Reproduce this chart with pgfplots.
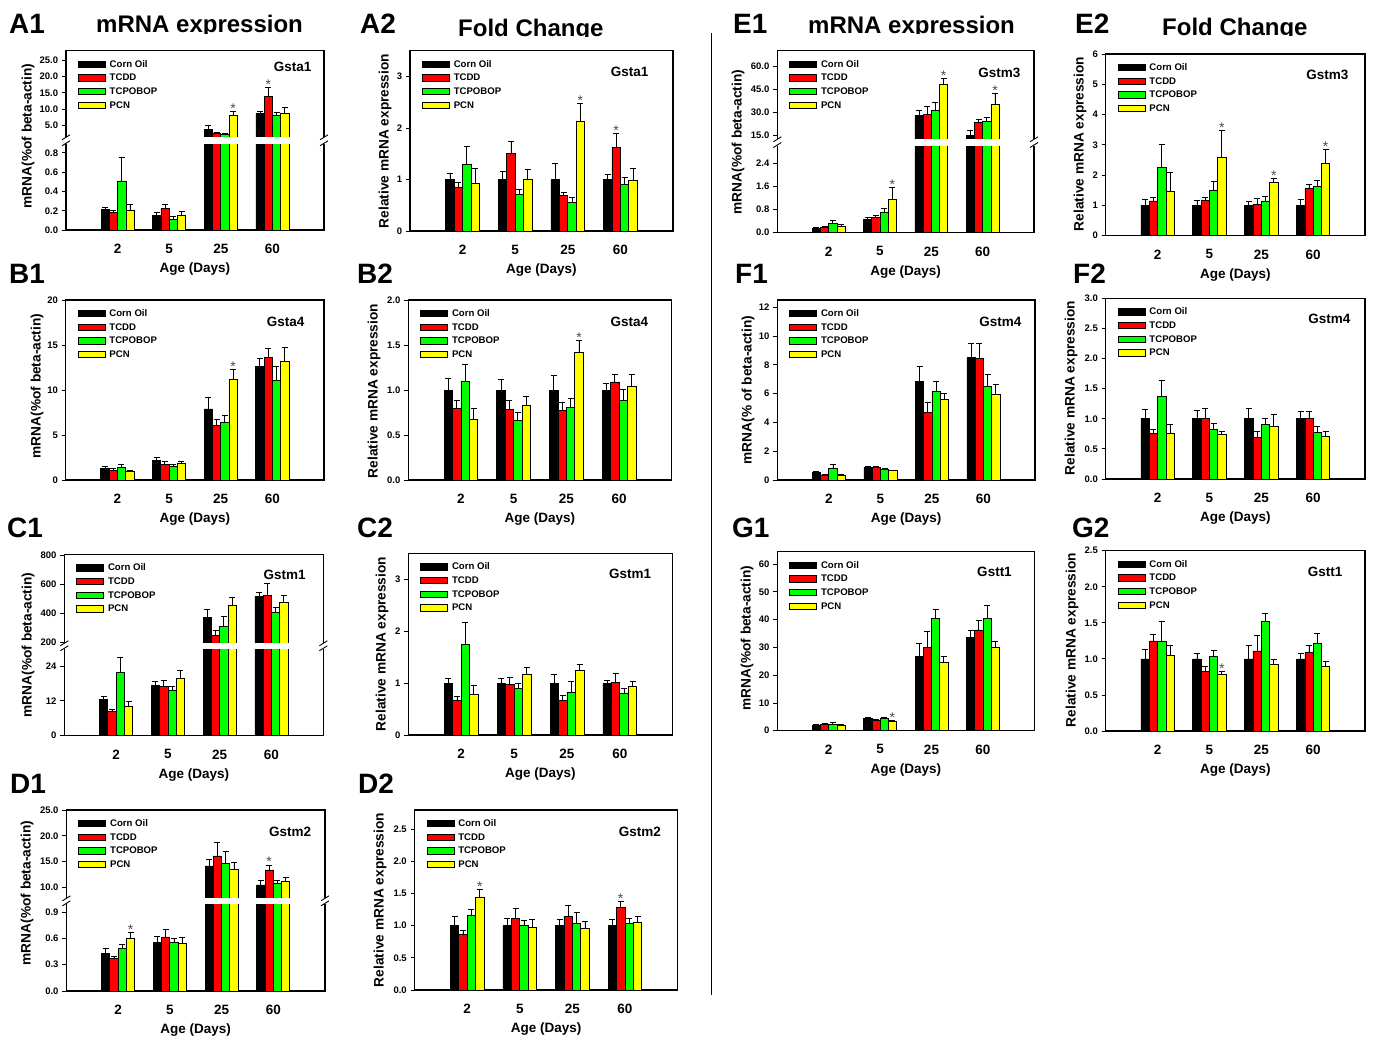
\documentclass[border=0pt]{standalone}
\usepackage{pgfplots}
\pgfplotsset{compat=1.18}
\usepackage{pgfplotstable}
\usepackage{fontspec}
\setmainfont{Liberation Sans}
\definecolor{cred}{RGB}{255,0,0}
\definecolor{cgreen}{RGB}{0,255,0}
\definecolor{cyellow}{RGB}{255,255,0}
\newcommand{\fs}[1]{\bfseries\fontsize{#1}{#1}\selectfont}
\pgfplotsset{
 gb/.style={scale only axis, anchor=north west, xmin=0, xmax=5,
   xtick={1,2,3,4}, xticklabels={2,5,25,60}, ytick pos=left,
   tick align=outside, major tick length=4pt, xtick style={draw=none},
   ytick style={line width=0.9pt, black}, line width=1.1pt,
   x tick label style={font=\fs{13.5}, yshift=-6pt},
   y tick label style={font=\fs{9.5}},
   xlabel style={at={(axis description cs:0.5,0)}, anchor=center, yshift=-39pt, font=\fs{13.5}},
   legend style={at={(0,1)}, anchor=north west, xshift=11.5pt, yshift=-7.5pt,
     draw=none, fill=none, inner sep=0pt, font=\fs{9.6}, row sep=2.4pt,
     cells={anchor=west}, nodes={inner sep=1.5pt},
     /tikz/every odd column/.append style={column sep=2.5pt}},
   legend image code/.code={\draw[#1,/tikz/.cd,draw=black,line width=0.7pt] (0pt,-3pt) rectangle (27pt,3.5pt);},
   /pgf/number format/assume math mode=true},
 bstyle/.style={ybar, bar width=0.16, bar shift=0pt, draw=black, line width=0.7pt,
   error bars/y dir=plus, error bars/y explicit,
   error bars/error bar style={line width=0.9pt, black},
   error bars/error mark options={rotate=90, black, line width=0.9pt, mark size=3pt}},
}
\tikzset{
 bstyle/.style={},
 gene/.style={anchor=east, font=\fs{13.5}, inner sep=0pt},
 star/.style={anchor=base, inner sep=0pt, font=\mdseries\fontsize{14}{14}\selectfont, text=black!70, yshift=-2pt},
}
\newcommand{\fourbars}[1]{%
 \addplot[bstyle, fill=black] table[x expr=\coordindex+0.76, y=a, y error=ea]{#1};
 \addplot[bstyle, fill=cred] table[x expr=\coordindex+0.92, y=b, y error=eb]{#1};
 \addplot[bstyle, fill=cgreen] table[x expr=\coordindex+1.08, y=c, y error=ec]{#1};
 \addplot[bstyle, fill=cyellow] table[x expr=\coordindex+1.24, y=d, y error=ed]{#1};
}
\newcommand{\leg}{\legend{Corn Oil,TCDD,TCPOBOP,PCN}}
\newcommand{\brk}[4]{%
 \fill[white] (#1pt-3pt,-#3pt+0.8pt) rectangle (#2pt+3pt,-#4pt-0.8pt);
 \foreach \xx in {#1,#2}{\foreach \yy in {#3,#4}{\draw[line width=0.9pt] (\xx pt-4pt,-\yy pt-2.5pt) -- (\xx pt+4pt,-\yy pt+2.5pt);}}%
}
\newcommand{\ylab}[3]{\node[rotate=90, font=\fs{13.7}] at (#1pt,-#2pt) {#3};}
\newcommand{\plet}[3]{\node[anchor=base west, inner sep=0pt, font=\fs{28}] at (#1pt,-#2pt) {#3};}
\newcommand{\ttl}[3]{\begin{scope}\clip (#1pt-5pt,-#2pt+30pt) rectangle (#1pt+260pt,-#2pt-0.5pt);
 \node[anchor=base west, inner sep=0pt, font=\fs{24}] at (#1pt,-#2pt) {#3};\end{scope}}
\begin{document}
% ---------- data: columns = Corn Oil, TCDD, TCPOBOP, PCN (value, +SE) ; rows = 2,5,25,60 days
\pgfplotstableread{
a ea b eb c ec d ed
0.21 0.025 0.18 0.02 0.51 0.24 0.20 0.065
0.155 0.03 0.225 0.04 0.11 0.028 0.155 0.035
3.9 1.1 2.69 0.3 2.26 0.35 8.04 1.43
8.77 0.7 13.96 2.55 8.04 1.0 8.77 1.8
}\dAa
\pgfplotstableread{
a ea b eb c ec d ed
1.0 0.11 0.85 0.09 1.30 0.34 0.93 0.29
1.0 0.15 1.50 0.24 0.71 0.09 1.01 0.19
1.0 0.32 0.69 0.06 0.56 0.09 2.13 0.35
1.0 0.10 1.63 0.27 0.91 0.13 0.99 0.23
}\dAb
\pgfplotstableread{
a ea b eb c ec d ed
1.30 0.18 1.11 0.15 1.41 0.33 0.93 0.14
2.22 0.30 1.74 0.30 1.48 0.22 1.85 0.22
7.89 1.30 6.11 0.67 6.37 0.82 11.19 1.11
12.6 0.9 13.6 1.0 11.1 1.57 13.15 1.55
}\dBa
\pgfplotstableread{
a ea b eb c ec d ed
1.0 0.13 0.80 0.08 1.10 0.18 0.67 0.13
1.0 0.12 0.78 0.10 0.66 0.09 0.83 0.10
1.0 0.16 0.77 0.09 0.81 0.10 1.42 0.13
1.0 0.07 1.09 0.08 0.88 0.13 1.04 0.13
}\dBb
\pgfplotstableread{
a ea b eb c ec d ed
12.5 0.9 8.3 0.9 21.7 5.3 10.0 1.7
17.2 1.4 16.9 2.0 15.5 1.6 19.7 2.7
371 57 252 30 314 64 458 50
515 27 524 82 410 32 478 46
}\dCa
\pgfplotstableread{
a ea b eb c ec d ed
1.0 0.08 0.66 0.09 1.75 0.41 0.79 0.16
1.0 0.09 0.98 0.12 0.90 0.10 1.16 0.14
1.0 0.16 0.67 0.09 0.83 0.20 1.24 0.12
1.0 0.05 1.01 0.17 0.80 0.09 0.93 0.10
}\dCb
\pgfplotstableread{
a ea b eb c ec d ed
0.425 0.062 0.368 0.027 0.487 0.049 0.605 0.058
0.556 0.069 0.617 0.083 0.556 0.049 0.54 0.073
14.14 1.29 16.08 2.65 14.65 2.27 13.49 1.36
10.45 0.97 13.36 0.97 10.78 0.51 11.1 0.84
}\dDa
\pgfplotstableread{
a ea b eb c ec d ed
1.0 0.15 0.87 0.06 1.16 0.095 1.44 0.12
1.0 0.115 1.115 0.155 1.01 0.07 0.97 0.13
1.0 0.10 1.15 0.17 1.04 0.16 0.96 0.10
1.0 0.09 1.29 0.08 1.04 0.075 1.06 0.09
}\dDb
\pgfplotstableread{
a ea b eb c ec d ed
0.15 0.02 0.17 0.03 0.32 0.12 0.21 0.09
0.47 0.06 0.53 0.05 0.69 0.14 1.16 0.41
27.7 3.3 28.4 5.7 31.5 4.8 48.4 4.0
15.0 2.9 23.1 2.2 23.8 2.8 35.2 7.3
}\dEa
\pgfplotstableread{
a ea b eb c ec d ed
1.0 0.2 1.15 0.12 2.26 0.74 1.48 0.60
1.0 0.18 1.18 0.09 1.51 0.27 2.59 0.87
1.0 0.12 1.04 0.19 1.15 0.14 1.75 0.14
1.0 0.2 1.56 0.14 1.62 0.19 2.39 0.46
}\dEb
\pgfplotstableread{
a ea b eb c ec d ed
0.51 0.07 0.35 0.04 0.81 0.28 0.35 0.07
0.86 0.11 0.86 0.11 0.74 0.07 0.65 0.04
6.83 1.04 4.70 0.67 6.18 0.65 5.60 0.42
8.50 0.99 8.45 1.04 6.48 0.86 5.95 0.69
}\dFa
\pgfplotstableread{
a ea b eb c ec d ed
1.0 0.16 0.76 0.06 1.37 0.27 0.75 0.15
1.0 0.13 1.0 0.17 0.83 0.09 0.74 0.05
1.0 0.17 0.69 0.10 0.91 0.10 0.87 0.20
1.0 0.12 1.0 0.12 0.77 0.10 0.70 0.09
}\dFb
\pgfplotstableread{
a ea b eb c ec d ed
2.0 0.3 2.4 0.2 2.4 0.5 2.0 0.3
4.45 0.35 3.85 0.35 4.45 0.35 3.5 0.35
26.9 4.6 30.0 5.9 40.5 3.3 24.6 2.1
33.5 2.8 36.3 3.6 40.5 4.8 30.0 2.1
}\dGa
\pgfplotstableread{
a ea b eb c ec d ed
1.0 0.13 1.25 0.09 1.24 0.28 1.05 0.14
1.0 0.08 0.83 0.06 1.04 0.08 0.78 0.04
1.0 0.18 1.11 0.22 1.52 0.11 0.92 0.07
1.0 0.07 1.09 0.10 1.22 0.13 0.89 0.07
}\dGb
\begin{tikzpicture}
\useasboundingbox (0pt,0pt) rectangle (1374pt,-1037pt);
\draw[line width=1.5pt] (711.5pt,-33pt) -- (711.5pt,-995pt);
% panel letters
\plet{9}{33}{A1}\plet{360}{33}{A2}\plet{733}{33}{E1}\plet{1075}{33}{E2}
\plet{9}{283}{B1}\plet{357}{283}{B2}\plet{735}{283}{F1}\plet{1073}{283}{F2}
\plet{7}{537}{C1}\plet{357}{537}{C2}\plet{732}{537}{G1}\plet{1072}{537}{G2}
\plet{10}{793}{D1}\plet{358}{793}{D2}
% titles
\ttl{96}{32.8}{mRNA expression}
\ttl{458}{36.3}{Fold Change}
\ttl{808}{33.3}{mRNA expression}
\ttl{1162}{35}{Fold Change}
% y labels
\ylab{28}{136}{mRNA(\%of beta-actin)}
\ylab{385}{141}{Relative mRNA expression}
\ylab{37}{386}{mRNA(\%of beta-actin)}
\ylab{374}{391}{Relative mRNA expression}
\ylab{28}{645}{mRNA(\%of beta-actin)}
\ylab{382}{644}{Relative mRNA expression}
\ylab{27}{893}{mRNA(\%of beta-actin)}
\ylab{380}{900}{Relative mRNA expression}
\ylab{738}{142}{mRNA(\%of beta-actin)}
\ylab{1080}{144}{Relative mRNA expression}
\ylab{748}{390}{mRNA(\% of beta-actin)}
\ylab{1071}{388}{Relative mRNA expression}
\ylab{747}{638}{mRNA(\%of beta-actin)}
\ylab{1072}{640}{Relative mRNA expression}
% ===== A1 =====
\begin{axis}[gb, at={(66pt,-143.3pt)}, width=258pt, height=86.7pt, ymin=0, ymax=0.9,
  ytick={0,0.2,0.4,0.6,0.8}, yticklabels={0.0,0.2,0.4,0.6,0.8}, xlabel={Age (Days)}]
\fourbars{\dAa}
\end{axis}
\begin{axis}[gb, at={(66pt,-50.7pt)}, width=258pt, height=86.6pt, ymin=1.47, ymax=27.83,
  ytick={5,10,15,20,25}, yticklabels={5.0,10.0,15.0,20.0,25.0}, xtick=\empty]
\fourbars{\dAa}\leg
\node[gene,xshift=-12pt,yshift=-16pt] at (rel axis cs:1,1) {Gsta1};
\node[star] at (axis cs:3.24,9.47) {*};
\node[star] at (axis cs:3.92,16.51) {*};
\end{axis}
\brk{66}{324}{137.3}{143.3}
% ===== A2 =====
\begin{axis}[gb, at={(410pt,-50.7pt)}, width=263pt, height=180.3pt, ymin=0, ymax=3.5,
  ytick={0,1,2,3}, yticklabels={0,1,2,3}, xlabel={Age (Days)}]
\fourbars{\dAb}\leg
\node[gene,xshift=-24pt,yshift=-21pt] at (rel axis cs:1,1) {Gsta1};
\node[star] at (axis cs:3.24,2.48) {*};
\node[star] at (axis cs:3.92,1.90) {*};
\end{axis}
% ===== B1 =====
\begin{axis}[gb, at={(65.7pt,-300pt)}, width=258.3pt, height=180pt, ymin=0, ymax=20,
  ytick={0,5,10,15,20}, yticklabels={0,5,10,15,20}, xlabel={Age (Days)}]
\fourbars{\dBa}\leg
\node[gene,xshift=-19pt,yshift=-22pt] at (rel axis cs:1,1) {Gsta4};
\node[star] at (axis cs:3.24,12.3) {*};
\end{axis}
% ===== B2 =====
\begin{axis}[gb, at={(408.3pt,-300pt)}, width=263.4pt, height=180pt, ymin=0, ymax=2,
  ytick={0,0.5,1,1.5,2}, yticklabels={0.0,0.5,1.0,1.5,2.0}, xlabel={Age (Days)}]
\fourbars{\dBb}\leg
\node[gene,xshift=-23pt,yshift=-22pt] at (rel axis cs:1,1) {Gsta4};
\node[star] at (axis cs:3.24,1.55) {*};
\end{axis}
% ===== C1 =====
\begin{axis}[gb, at={(64.3pt,-648.3pt)}, width=259pt, height=87.4pt, ymin=0, ymax=30.1,
  ytick={0,12,24}, yticklabels={0,12,24}, xlabel={Age (Days)}]
\fourbars{\dCa}
\end{axis}
\begin{axis}[gb, at={(64.3pt,-554.3pt)}, width=259pt, height=89pt, ymin=196, ymax=805,
  ytick={200,400,600,800}, yticklabels={200,400,600,800}, xtick=\empty]
\fourbars{\dCa}\leg
\node[gene,xshift=-17pt,yshift=-21pt] at (rel axis cs:1,1) {Gstm1};
\end{axis}
\brk{64.3}{323.3}{643.3}{648.3}
% ===== C2 =====
\begin{axis}[gb, at={(408.3pt,-553.3pt)}, width=264.4pt, height=181.7pt, ymin=0, ymax=3.5,
  ytick={0,1,2,3}, yticklabels={0,1,2,3}, xlabel={Age (Days)}]
\fourbars{\dCb}\leg
\node[gene,xshift=-21pt,yshift=-21pt] at (rel axis cs:1,1) {Gstm1};
\end{axis}
% ===== D1 =====
\begin{axis}[gb, at={(66.4pt,-903.3pt)}, width=258.6pt, height=87.7pt, ymin=0, ymax=1.0,
  ytick={0,0.3,0.6,0.9}, yticklabels={0.0,0.3,0.6,0.9}, xlabel={Age (Days)}]
\fourbars{\dDa}
\node[star] at (axis cs:1.24,0.663) {*};
\end{axis}
\begin{axis}[gb, at={(66.4pt,-810pt)}, width=258.6pt, height=88.3pt, ymin=7.86, ymax=25,
  ytick={10,15,20,25}, yticklabels={10.0,15.0,20.0,25.0}, xtick=\empty]
\fourbars{\dDa}\leg
\node[gene,xshift=-13.4pt,yshift=-21.7pt] at (rel axis cs:1,1) {Gstm2};
\node[star] at (axis cs:3.92,14.33) {*};
\end{axis}
\brk{66.4}{325}{898.3}{903.3}
% ===== D2 =====
\begin{axis}[gb, at={(414.6pt,-810pt)}, width=262.9pt, height=180pt, ymin=0, ymax=2.8,
  ytick={0,0.5,1,1.5,2,2.5}, yticklabels={0.0,0.5,1.0,1.5,2.0,2.5}, xlabel={Age (Days)}]
\fourbars{\dDb}\leg
\node[gene,xshift=-16pt,yshift=-21.7pt] at (rel axis cs:1,1) {Gstm2};
\node[star] at (axis cs:1.24,1.56) {*};
\node[star] at (axis cs:3.92,1.37) {*};
\end{axis}
% ===== E1 =====
\begin{axis}[gb, at={(777.3pt,-145pt)}, width=256.7pt, height=87.7pt, ymin=0, ymax=3.03,
  ytick={0,0.8,1.6,2.4}, yticklabels={0.0,0.8,1.6,2.4}, xlabel={Age (Days)}]
\fourbars{\dEa}
\node[star] at (axis cs:2.24,1.57) {*};
\end{axis}
\begin{axis}[gb, at={(777.3pt,-50.7pt)}, width=256.7pt, height=88.6pt, ymin=12.17, ymax=70.5,
  ytick={15,30,45,60}, yticklabels={15.0,30.0,45.0,60.0}, xtick=\empty]
\fourbars{\dEa}\leg
\node[gene,xshift=-13pt,yshift=-22pt] at (rel axis cs:1,1) {Gstm3};
\node[star] at (axis cs:3.24,52.4) {*};
\node[star] at (axis cs:4.24,42.5) {*};
\end{axis}
\brk{777.3}{1034}{139.3}{145}
% ===== E2 =====
\begin{axis}[gb, at={(1105.7pt,-54pt)}, width=259.3pt, height=181.7pt, ymin=0, ymax=6,
  ytick={0,1,2,3,4,5,6}, yticklabels={0,1,2,3,4,5,6}, xlabel={Age (Days)}]
\fourbars{\dEb}\leg
\node[gene,xshift=-16pt,yshift=-21pt] at (rel axis cs:1,1) {Gstm3};
\node[star] at (axis cs:2.24,3.46) {*};
\node[star] at (axis cs:3.24,1.89) {*};
\node[star] at (axis cs:4.24,2.85) {*};
\end{axis}
% ===== F1 =====
\begin{axis}[gb, at={(777.3pt,-300pt)}, width=257.7pt, height=180pt, ymin=0, ymax=12.5,
  ytick={0,2,4,6,8,10,12}, yticklabels={0,2,4,6,8,10,12}, xlabel={Age (Days)}]
\fourbars{\dFa}\leg
\node[gene,xshift=-13pt,yshift=-22pt] at (rel axis cs:1,1) {Gstm4};
\end{axis}
% ===== F2 =====
\begin{axis}[gb, at={(1105.7pt,-298.3pt)}, width=259.3pt, height=180.7pt, ymin=0, ymax=3,
  ytick={0,0.5,1,1.5,2,2.5,3}, yticklabels={0.0,0.5,1.0,1.5,2.0,2.5,3.0}, xlabel={Age (Days)}]
\fourbars{\dFb}\leg
\node[gene,xshift=-14pt,yshift=-21pt] at (rel axis cs:1,1) {Gstm4};
\end{axis}
% ===== G1 =====
\begin{axis}[gb, at={(777.3pt,-551.7pt)}, width=257pt, height=179pt, ymin=0, ymax=64.5,
  ytick={0,10,20,30,40,50,60}, yticklabels={0,10,20,30,40,50,60}, xlabel={Age (Days)}]
\fourbars{\dGa}\leg
\node[gene,xshift=-22pt,yshift=-20pt] at (rel axis cs:1,1) {Gstt1};
\node[star] at (axis cs:2.24,3.85) {*};
\end{axis}
% ===== G2 =====
\begin{axis}[gb, at={(1105.7pt,-550.7pt)}, width=259.3pt, height=180.3pt, ymin=0, ymax=2.5,
  ytick={0,0.5,1,1.5,2,2.5}, yticklabels={0.0,0.5,1.0,1.5,2.0,2.5}, xlabel={Age (Days)}]
\fourbars{\dGb}\leg
\node[gene,xshift=-22pt,yshift=-21pt] at (rel axis cs:1,1) {Gstt1};
\node[star] at (axis cs:2.24,0.82) {*};
\end{axis}
\end{tikzpicture}
\end{document}
